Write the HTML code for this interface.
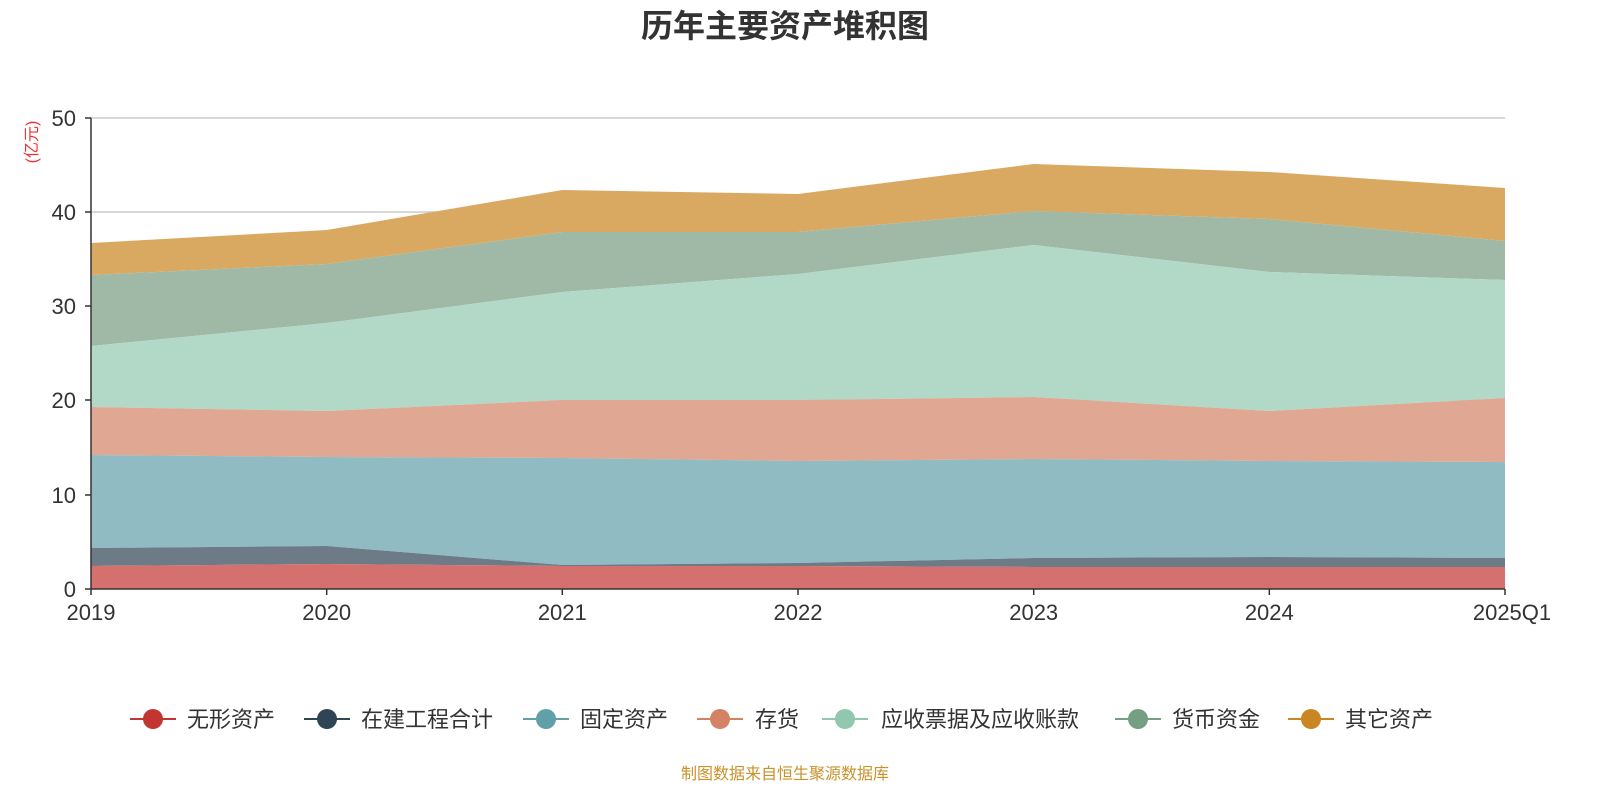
<!DOCTYPE html>
<html><head><meta charset="utf-8"><style>
body{margin:0;background:#fff;}
svg{display:block;font-family:"Liberation Sans","Noto Sans CJK SC",sans-serif;}
</style></head><body>
<svg width="1600" height="800" viewBox="0 0 1600 800">
<text x="785" y="37" text-anchor="middle" font-size="32" font-weight="bold" fill="#333">历年主要资产堆积图</text>
<g stroke="#ccc" stroke-width="1.5">
<line x1="91" y1="118" x2="1505" y2="118"/><line x1="91" y1="212" x2="1505" y2="212"/>
<line x1="91" y1="306" x2="1505" y2="306"/><line x1="91" y1="400" x2="1505" y2="400"/>
<line x1="91" y1="495" x2="1505" y2="495"/>
</g>
<polygon fill="#d9a962" points="91,243 326.7,230 562.3,190 798,194 1033.7,164 1269.3,172 1505,188 1505,241 1269.3,219 1033.7,211 798,232 562.3,232 326.7,264 91,275"/>
<polygon fill="#a0b9a6" points="91,275 326.7,264 562.3,232 798,232 1033.7,211 1269.3,219 1505,241 1505,280 1269.3,272 1033.7,245 798,274 562.3,292 326.7,323 91,346"/>
<polygon fill="#b2d9c8" points="91,346 326.7,323 562.3,292 798,274 1033.7,245 1269.3,272 1505,280 1505,398 1269.3,411 1033.7,397 798,400 562.3,400 326.7,411 91,407"/>
<polygon fill="#e0a892" points="91,407 326.7,411 562.3,400 798,400 1033.7,397 1269.3,411 1505,398 1505,462 1269.3,461 1033.7,459 798,461 562.3,458 326.7,457 91,455"/>
<polygon fill="#91bbc2" points="91,455 326.7,457 562.3,458 798,461 1033.7,459 1269.3,461 1505,462 1505,558 1269.3,557 1033.7,558 798,563 562.3,565 326.7,546 91,548"/>
<polygon fill="#6d7b87" points="91,548 326.7,546 562.3,565 798,563 1033.7,558 1269.3,557 1505,558 1505,567 1269.3,567 1033.7,567 798,566 562.3,566 326.7,564 91,566"/>
<polygon fill="#d4706d" points="91,566 326.7,564 562.3,566 798,566 1033.7,567 1269.3,567 1505,567 1505,589 91,589"/>
<g stroke="#333" stroke-width="1.5">
<line x1="91" y1="118" x2="91" y2="589"/><line x1="91" y1="589" x2="1505" y2="589"/>
<line x1="85" y1="118" x2="91" y2="118"/><line x1="85" y1="212" x2="91" y2="212"/><line x1="85" y1="306" x2="91" y2="306"/><line x1="85" y1="400" x2="91" y2="400"/><line x1="85" y1="495" x2="91" y2="495"/><line x1="85" y1="589" x2="91" y2="589"/>
<line x1="91" y1="589" x2="91" y2="595"/><line x1="326.7" y1="589" x2="326.7" y2="595"/><line x1="562.3" y1="589" x2="562.3" y2="595"/><line x1="798" y1="589" x2="798" y2="595"/><line x1="1033.7" y1="589" x2="1033.7" y2="595"/><line x1="1269.3" y1="589" x2="1269.3" y2="595"/><line x1="1505" y1="589" x2="1505" y2="595"/>
</g>
<g font-size="22" fill="#333" text-anchor="end">
<text x="76" y="126">50</text><text x="76" y="220">40</text><text x="76" y="314">30</text><text x="76" y="408">20</text><text x="76" y="503">10</text><text x="76" y="597">0</text>
</g>
<g font-size="22" fill="#333" text-anchor="middle">
<text x="91" y="620">2019</text><text x="326.7" y="620">2020</text><text x="562.3" y="620">2021</text><text x="798" y="620">2022</text><text x="1033.7" y="620">2023</text><text x="1269.3" y="620">2024</text><text x="1512" y="620">2025Q1</text>
</g>
<text transform="translate(37,142) rotate(-90)" text-anchor="middle" font-size="16" fill="#e33">(亿元)</text>
<g font-size="22" fill="#333">
<line x1="130" y1="719" x2="176" y2="719" stroke="#c23531" stroke-width="2"/><circle cx="153" cy="719" r="10" fill="#c23531"/><text x="187" y="727">无形资产</text>
<line x1="304" y1="719" x2="350" y2="719" stroke="#2f4554" stroke-width="2"/><circle cx="327" cy="719" r="10" fill="#2f4554"/><text x="361" y="727">在建工程合计</text>
<line x1="523" y1="719" x2="569" y2="719" stroke="#61a0a8" stroke-width="2"/><circle cx="546" cy="719" r="10" fill="#61a0a8"/><text x="580" y="727">固定资产</text>
<line x1="697" y1="719" x2="743" y2="719" stroke="#d48265" stroke-width="2"/><circle cx="720" cy="719" r="10" fill="#d48265"/><text x="755" y="727">存货</text>
<line x1="822" y1="719" x2="868" y2="719" stroke="#91c7ae" stroke-width="2"/><circle cx="845" cy="719" r="10" fill="#91c7ae"/><text x="881" y="727">应收票据及应收账款</text>
<line x1="1115" y1="719" x2="1161" y2="719" stroke="#749f83" stroke-width="2"/><circle cx="1138" cy="719" r="10" fill="#749f83"/><text x="1172" y="727">货币资金</text>
<line x1="1288" y1="719" x2="1334" y2="719" stroke="#ca8622" stroke-width="2"/><circle cx="1311" cy="719" r="10" fill="#ca8622"/><text x="1345" y="727">其它资产</text>
</g>
<text x="785" y="779" text-anchor="middle" font-size="16" fill="#c8922a">制图数据来自恒生聚源数据库</text>
</svg>
</body></html>
